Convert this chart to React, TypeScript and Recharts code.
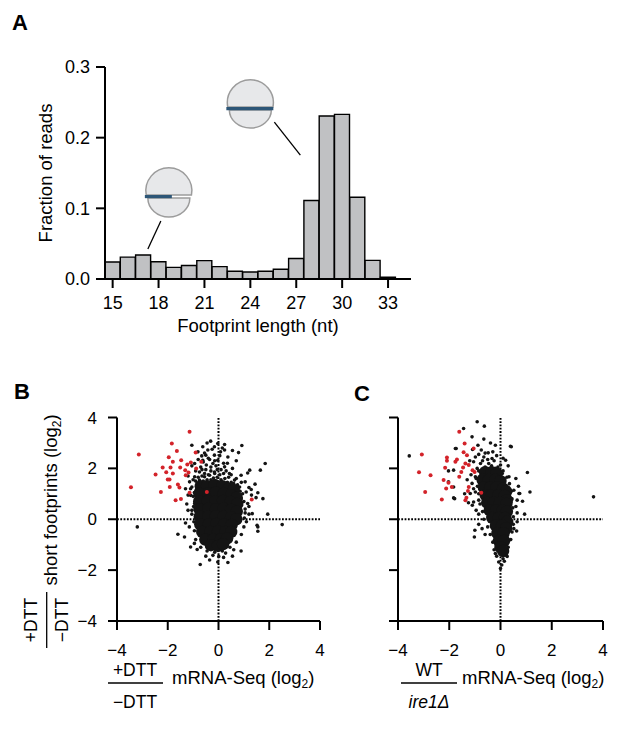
import React from 'react';
import {
  BarChart, Bar, ScatterChart, Scatter, XAxis, YAxis, ReferenceLine, ReferenceDot,
} from 'recharts';

const FONT = "'Liberation Sans', Arial, Helvetica, sans-serif";

// Panel A: footprint length histogram
const lengths = [15, 16, 17, 18, 19, 20, 21, 22, 23, 24, 25, 26, 27, 28, 29, 30, 31, 32, 33, 34];
const fractions = [0.024, 0.031, 0.034, 0.0245, 0.0165, 0.019, 0.026, 0.0175, 0.011, 0.010, 0.011, 0.0137, 0.029, 0.111, 0.2307, 0.233, 0.1156, 0.0264, 0.0024, null];
const fractionTicks = [0, 0.1, 0.2, 0.3];

// Panel B: +DTT/-DTT
const bRed = [
  [-1.14, 3.44], [-1.84, 2.98], [-3.14, 2.55], [-1.64, 2.68], [-0.9, 2.62], [-1.96, 2.44], [-1.47, 2.32],
  [-1.8, 2.26], [-1.23, 2.15], [-1.09, 2.23], [-0.68, 2.26], [-2.2, 2.03], [-1.89, 2.03], [-1.51, 2.03],
  [-2.06, 1.85], [-1.8, 1.8], [-2.48, 1.76], [-1.31, 1.93], [-1.29, 1.73], [-1.18, 1.84], [-0.88, 2.0],
  [-2.0, 1.56], [-1.93, 1.56], [-1.6, 1.37], [-1.54, 1.25], [-1.92, 1.27], [-2.27, 1.07], [-3.45, 1.26],
  [-1.14, 1.04], [-1.69, 0.75], [-1.48, 0.8], [-0.46, 1.07], [1.31, 0.78],
];
const bBlack = [
  [-0.31, 3.07], [-0.03, 2.98], [0.24, 2.94], [0.92, 2.9], [0.79, 2.62], [1.84, 2.19], [1.65, 1.93],
  [1.23, 1.93], [0.89, 1.73], [1.15, 1.82], [1.44, 1.38], [1.55, 1.04], [1.94, 0.2], [-1.05, 2.91],
  [-0.62, 2.85], [-0.5, 2.52], [-3.2, -0.3], [2.51, -0.21], [1.55, -0.3], [1.55, -0.47], [1.75, 0.81],
  [-1.6, -0.59], [-1.34, -0.7], [-1.1, -1.09], [-0.84, -1.19], [-0.72, -1.78], [-0.22, -1.42],
  [-0.03, -1.68], [0.01, -1.46], [0.28, -1.33], [0.37, -1.7], [0.89, -1.25], [1.33, 0.22], [1.52, -0.24],
  [-0.81, 2.65], [-0.66, 2.49], [-0.42, 2.72], [-0.16, 2.85], [0.08, 2.65], [-0.03, 2.32], [-0.22, 2.19],
  [-0.48, 2.13], [-0.75, 1.86], [-0.94, 1.67], [-1.14, 1.47], [-1.05, 1.27], [-0.88, 1.14], [-0.66, 1.38],
  [-0.35, 1.73], [-0.16, 1.86], [0.24, 2.06], [0.43, 1.8], [0.63, 1.54], [0.83, 1.27], [1.05, 1.47],
  [1.09, 1.07], [1.29, 1.17], [0.56, 1.07], [-0.62, 2.32], [-0.35, 2.35], [-0.16, 2.52], [-0.94, 2.19],
  [0.37, 2.45], [0.24, 2.72], [-0.75, 1.54], [-0.55, 1.67], [-1.1, 0.94], [-0.94, 0.62], [-1.05, 0.35],
  [0.89, 0.81], [1.48, 0.85], [1.15, 0.62], [0.83, 0.48],
  [-1.0, 0.9], [-0.98, 0.5], [-1.05, 0.2], [-0.97, -0.1], [-0.95, -0.45], [-0.9, -0.8], [-0.7, -1.1],
  [-0.45, -1.25], [-0.15, -1.3], [0.15, -1.25], [0.45, -1.1], [0.7, -0.9], [0.9, -0.6], [1.0, -0.3],
  [1.02, 0.05], [1.05, 0.4], [1.0, 0.7], [0.95, 1.0], [0.75, 1.2], [0.5, 1.45], [0.25, 1.6], [-0.05, 1.65],
  [-0.3, 1.55], [-0.6, 1.5], [-0.85, 1.35], [-0.9, 1.9], [-0.7, 2.05], [-0.5, 1.95], [-0.3, 2.05],
  [-0.1, 2.1], [0.1, 1.95], [0.35, 2.2], [0.55, 2.0], [-0.8, 2.35], [-0.55, 2.6], [-0.25, 2.75],
  [0.05, 2.5], [0.15, 2.8], [-0.4, 2.4], [-0.15, 1.8], [0.05, 1.75], [-0.65, 1.7], [-1.2, 1.7],
  [-1.3, 1.2], [-1.25, 0.6], [-1.2, 0.35], [-0.45, 3.0], [0.55, 2.7], [0.7, 2.3], [0.7, 1.6], [0.9, 1.45],
  [1.2, 1.25], [1.3, 0.95], [1.2, 0.5], [1.1, -0.1], [1.2, 0.2], [-1.15, -0.3], [-1.3, -0.15],
  [-0.5, -1.45], [0.2, -1.5], [-0.35, -1.6], [0.6, -1.2], [-0.95, -0.95], [0.55, -1.45],
  [-1.0, 1.55], [-0.8, 1.65], [-0.55, 1.8], [-0.3, 1.9], [-0.05, 1.95], [0.2, 1.8], [0.4, 1.65],
  [0.6, 1.4], [0.75, 1.35], [-1.1, 1.2], [-0.95, 1.05], [-0.75, 1.25], [-0.45, 1.55], [-0.2, 1.62],
  [0.1, 1.55], [0.35, 1.45], [0.65, 1.2], [0.85, 1.1], [-1.2, 0.95], [-0.65, 1.95], [-0.9, 1.5],
  [0.3, 1.9], [0.5, 1.75], [-0.4, 1.75], [-0.15, 2.3], [0.2, 2.2], [-0.6, 2.25], [-1.05, 2.1],
  [0.9, 0.55], [1.05, 0.25],
];
// dense centre of the cloud, drawn with large dots
const bCore = [
  [-0.7, 1.3], [-0.45, 1.3], [-0.15, 1.35], [0.15, 1.3], [0.4, 1.2], [0.6, 1.15],
  [-0.75, 1.0], [-0.4, 1.02], [-0.1, 1.05], [0.2, 1.0], [0.5, 0.95], [0.72, 0.85],
  [-0.76, 0.7], [-0.42, 0.72], [-0.12, 0.7], [0.18, 0.72], [0.48, 0.68], [0.74, 0.6],
  [-0.75, 0.4], [-0.4, 0.42], [-0.1, 0.4], [0.2, 0.42], [0.5, 0.38], [0.72, 0.3],
  [-0.74, 0.1], [-0.4, 0.1], [-0.1, 0.12], [0.2, 0.1], [0.5, 0.08], [0.7, 0.0],
  [-0.72, -0.2], [-0.38, -0.2], [-0.08, -0.18], [0.22, -0.2], [0.52, -0.22],
  [-0.64, -0.5], [-0.32, -0.5], [-0.02, -0.48], [0.28, -0.5], [0.5, -0.5],
  [-0.52, -0.8], [-0.2, -0.8], [0.1, -0.78], [0.34, -0.75],
  [-0.3, -1.02], [-0.02, -1.05], [0.18, -0.98],
];

// Panel C: WT/ire1
const cRed = [
  [-1.61, 3.44], [-1.4, 2.98], [-3.07, 2.55], [-3.18, 1.85], [-2.73, 1.73], [-2.16, 2.02], [-2.09, 2.3],
  [-1.76, 2.26], [-1.7, 2.35], [-1.44, 2.63], [-1.31, 2.52], [-1.37, 2.19], [-1.24, 2.13], [-1.46, 2.03],
  [-1.53, 1.86], [-2.22, 1.54], [-2.03, 1.43], [-2.12, 1.21], [-2.94, 1.07], [-2.29, 0.78], [-1.37, 0.75],
  [-1.33, 0.85], [-1.24, 1.27], [-1.27, 1.11], [-1.09, 1.93], [-1.01, 1.86], [-0.75, 1.04], [-1.61, 1.67],
  [-2.09, 2.43], [-1.9, 1.27], [-1.05, 2.78],
];
const cBlack = [
  [-3.56, 2.49], [-0.91, 3.83], [-1.44, 3.57], [-0.63, 3.66], [-0.65, 3.15], [-0.39, 3.0], [0.42, 2.85],
  [-1.73, 2.78], [1.05, 1.84], [1.15, 1.07], [3.63, 0.88], [-1.83, 0.84], [-1.02, -0.7], [-1.0, -0.43],
  [0.0, -1.94], [-0.07, -1.68], [0.26, -1.46], [-0.2, -1.35], [0.52, -0.37], [0.75, 1.01], [-2.03, 1.9],
  [-1.83, 1.27], [-0.72, -0.37], [0.63, -0.46], [0.94, 0.2], [0.65, 0.25], [0.86, 0.71],
  [-1.11, 3.24], [-0.88, 2.91], [-0.2, 2.91], [0.39, 2.87], [-1.76, 2.78], [-1.09, 2.74], [-0.75, 2.72],
  [-0.48, 2.61], [-0.98, 2.45], [-0.65, 2.45], [-0.33, 2.39], [-1.83, 1.93], [-2.03, 1.47], [-1.79, 0.81],
  [-1.05, 2.26], [-0.78, 2.19], [-0.46, 2.19], [-0.91, 2.0], [-0.69, 1.8], [-0.98, 1.67], [-1.11, 1.41],
  [-1.18, 1.01], [-0.98, 1.07], [-0.85, 0.75], [-1.05, 0.68], [-0.2, 2.0], [0.0, 2.13], [0.2, 2.32],
  [0.07, 1.8], [0.33, 1.67], [0.52, 1.14], [0.65, 0.75], [0.72, 1.01],
  [-0.95, 1.6], [-0.9, 1.3], [-0.85, 1.0], [-0.8, 0.6], [-0.7, 0.3], [-0.65, 0.0], [-0.5, -0.3],
  [-0.4, -0.6], [-0.3, -0.9], [-0.25, -1.2], [-0.15, -1.45], [0.2, -1.4], [0.3, -1.1], [0.4, -0.8],
  [0.45, -0.5], [0.5, -0.2], [0.5, 0.1], [0.48, 0.45], [0.45, 0.8], [0.42, 1.1], [0.35, 1.4],
  [0.25, 1.65], [0.1, 1.9], [-0.1, 2.05], [-0.35, 2.1], [-0.6, 2.05], [-0.85, 1.9], [-0.5, 2.35],
  [-0.25, 2.3], [-0.7, 2.3], [-0.6, 2.6], [-0.3, 2.65], [-0.15, 2.5], [-0.85, 2.55], [-1.2, 2.3],
  [-1.15, 1.75], [-1.3, 1.55], [-1.05, 1.2], [-1.4, 1.0], [-1.1, 0.55], [-0.95, 0.35], [-0.85, 0.2],
  [-1.25, 0.65], [0.1, 2.4], [0.3, 2.1], [0.6, 1.6], [0.7, 1.3], [0.6, 0.5], [0.65, -0.1], [-0.85, -0.2],
  [-0.6, -0.6], [0.15, -1.65], [0.05, -1.8], [0.1, -1.55],
];
const cCore = [
  [-0.6, 1.85], [-0.35, 1.85], [-0.15, 1.8],
  [-0.7, 1.55], [-0.45, 1.55], [-0.2, 1.55], [0.0, 1.5],
  [-0.65, 1.25], [-0.4, 1.25], [-0.15, 1.25], [0.1, 1.2], [0.22, 1.1],
  [-0.58, 0.95], [-0.33, 0.95], [-0.08, 0.95], [0.17, 0.92], [0.25, 0.75],
  [-0.52, 0.65], [-0.27, 0.65], [-0.02, 0.65], [0.23, 0.6],
  [-0.42, 0.35], [-0.17, 0.35], [0.08, 0.35], [0.25, 0.3],
  [-0.32, 0.05], [-0.07, 0.05], [0.18, 0.05], [0.26, -0.1],
  [-0.18, -0.25], [0.06, -0.25], [0.22, -0.35],
  [-0.12, -0.55], [0.12, -0.55],
  [-0.06, -0.85], [0.14, -0.85],
  [0.0, -1.1], [0.1, -1.25],
];
const logTicks = [-4, -2, 0, 2, 4];

const histData = lengths.map((length, i) => ({ length, fraction: fractions[i] }));
const toPts = (arr: number[][]) => arr.map(([x, y]) => ({ x, y }));
const minus = (v: number) => (v < 0 ? `\u2212${Math.abs(v)}` : `${v}`);

const axisStyle = { stroke: '#000', strokeWidth: 2 };
const RED = '#d3232a';
const BLACK = '#141414';

const dot = (r: number, fill: string) => (p: any) => <circle cx={p.cx} cy={p.cy} r={r} fill={fill} />;

const RIBO_FILL = '#e7e8ea';
const RIBO_STROKE = '#9c9c9c';
const MRNA = '#2d5677';

const Ribosome80S = (p: any) => (
  <g>
    <line x1={p.cx + 24} y1={p.cy + 18} x2={p.cx + 50} y2={p.cy + 51} stroke="#000" strokeWidth={1.3} />
    <path d={`M${p.cx - 21},${p.cy + 6} A21,18 0 0,0 ${p.cx + 21},${p.cy + 6} Z`} fill={RIBO_FILL} stroke={RIBO_STROKE} strokeWidth={1.5} />
    <path d={`M${p.cx - 22.6},${p.cy + 3} A23,23 0 1,1 ${p.cx + 22.6},${p.cy + 3} Z`} fill={RIBO_FILL} stroke={RIBO_STROKE} strokeWidth={1.5} />
    <line x1={p.cx - 24} y1={p.cy + 4.5} x2={p.cx + 23} y2={p.cy + 4.5} stroke={MRNA} strokeWidth={3.2} />
  </g>
);

const Ribosome40S = (p: any) => {
  const cx = p.cx - 5;
  const cy = p.cy;
  return (
    <g>
      <line x1={cx - 8} y1={cy + 29} x2={cx - 21} y2={cy + 57} stroke="#000" strokeWidth={1.3} />
      <path d={`M${cx - 21},${cy + 6} A21,19 0 0,0 ${cx + 21},${cy + 6} Z`} fill={RIBO_FILL} stroke={RIBO_STROKE} strokeWidth={1.5} />
      <path d={`M${cx - 22.6},${cy + 3} A23,23 0 1,1 ${cx + 22.6},${cy + 3} Z`} fill={RIBO_FILL} stroke={RIBO_STROKE} strokeWidth={1.5} />
      <line x1={cx - 24} y1={cy + 4.5} x2={cx + 3} y2={cy + 4.5} stroke={MRNA} strokeWidth={3.2} />
    </g>
  );
};

const FootprintHistogram = () => (
  <BarChart
    width={430}
    height={340}
    data={histData}
    margin={{ top: 67, right: 19, left: 45, bottom: 21 }}
    barCategoryGap={0}
  >
    <XAxis
      dataKey="length"
      interval={2}
      height={40}
      tickSize={9}
      tickMargin={8}
      axisLine={axisStyle}
      tickLine={axisStyle}
      tick={{ fontSize: 18, fill: '#000', fontFamily: FONT }}
    />
    <YAxis
      domain={[0, 0.3]}
      ticks={fractionTicks}
      tickFormatter={(v) => v.toFixed(1)}
      width={60}
      tickSize={9}
      tickMargin={6}
      axisLine={axisStyle}
      tickLine={axisStyle}
      tick={{ fontSize: 18, fill: '#000', fontFamily: FONT }}
    />
    <Bar dataKey="fraction" fill="#c0c1c3" stroke="#000" strokeWidth={1.4} isAnimationActive={false} />
    <ReferenceDot x={24} y={0.2476} r={1} shape={(p: any) => <Ribosome80S {...p} />} />
    <ReferenceDot x={19} y={0.123} r={1} shape={(p: any) => <Ribosome40S {...p} />} />
  </BarChart>
);

type ScatterProps = {
  red: number[][];
  black: number[][];
  core: number[][];
  showYLabels: boolean;
  left: number;
  yWidth: number;
  width: number;
  right: number;
};

const LogScatter = ({ red, black, core, showYLabels, left, yWidth, width, right }: ScatterProps) => (
  <ScatterChart width={width} height={300} margin={{ top: 37.5, right, left, bottom: 19 }}>
    <XAxis
      type="number"
      dataKey="x"
      domain={[-4, 4]}
      ticks={logTicks}
      allowDataOverflow
      height={40}
      tickSize={9}
      tickMargin={14}
      tickFormatter={minus}
      axisLine={axisStyle}
      tickLine={axisStyle}
      tick={{ fontSize: 17, fill: '#000', fontFamily: FONT }}
    />
    <YAxis
      type="number"
      dataKey="y"
      domain={[-4, 4]}
      ticks={logTicks}
      allowDataOverflow
      width={yWidth}
      tickSize={9}
      tickMargin={11}
      tickFormatter={showYLabels ? minus : () => ''}
      axisLine={axisStyle}
      tickLine={axisStyle}
      tick={{ fontSize: 17, fill: '#000', fontFamily: FONT }}
    />
    <ReferenceLine x={0} stroke="#000" strokeWidth={2} strokeDasharray="1.8 1.5" />
    <ReferenceLine y={0} stroke="#000" strokeWidth={2} strokeDasharray="1.8 1.5" />
    <Scatter data={toPts(black)} shape={dot(1.8, BLACK)} isAnimationActive={false} />
    <Scatter data={toPts(core)} shape={dot(6.2, BLACK)} isAnimationActive={false} />
    <Scatter data={toPts(red)} shape={dot(2, RED)} isAnimationActive={false} />
  </ScatterChart>
);

const App = () => (
  <div style={{ position: 'absolute', left: 0, top: 0, width: 617, height: 734, background: '#fff', fontFamily: FONT }}>
    <div style={{ position: 'absolute', left: 0, top: 0 }}>
      <FootprintHistogram />
    </div>
    <div style={{ position: 'absolute', left: 0, top: 380 }}>
      <LogScatter red={bRed} black={bBlack} core={bCore} showYLabels left={67} yWidth={50} width={330} right={10} />
    </div>
    <div style={{ position: 'absolute', left: 310, top: 380 }}>
      <LogScatter red={cRed} black={cBlack} core={cCore} showYLabels={false} left={68} yWidth={20} width={300} right={7} />
    </div>
    <svg
      width={617}
      height={734}
      style={{ position: 'absolute', left: 0, top: 0, pointerEvents: 'none' }}
      fontFamily={FONT}
      fill="#000"
    >
      <text x={12} y={29.5} fontSize={22} fontWeight="bold">A</text>
      <text x={14} y={399} fontSize={22} fontWeight="bold">B</text>
      <text x={354} y={401} fontSize={22} fontWeight="bold">C</text>

      <text transform="translate(51.5,173) rotate(-90)" textAnchor="middle" fontSize={18.5}>Fraction of reads</text>
      <text x={258} y={332} textAnchor="middle" fontSize={18.5}>Footprint length (nt)</text>

      {/* B y title */}
      <text transform="translate(57,500) rotate(-90)" textAnchor="middle" fontSize={18.5}>
        short footprints (log<tspan fontSize={12} dy={4}>2</tspan><tspan dy={-4}>)</tspan>
      </text>
      <text transform="translate(37,620) rotate(-90)" textAnchor="middle" fontSize={17.5}>+DTT</text>
      <line x1={46.7} y1={592} x2={46.7} y2={648} stroke="#000" strokeWidth={1.3} />
      <text transform="translate(68,620) rotate(-90)" textAnchor="middle" fontSize={17.5}>{'\u2212DTT'}</text>

      {/* B x title */}
      <text x={135} y={676} textAnchor="middle" fontSize={17.5}>+DTT</text>
      <line x1={108} y1={683} x2={163} y2={683} stroke="#000" strokeWidth={1.3} />
      <text x={135} y={708} textAnchor="middle" fontSize={17.5}>{'\u2212DTT'}</text>
      <text x={172} y={684} fontSize={18.5}>
        mRNA-Seq (log<tspan fontSize={12} dy={4}>2</tspan><tspan dy={-4}>)</tspan>
      </text>

      {/* C x title */}
      <text x={429} y={676} textAnchor="middle" fontSize={17.5}>WT</text>
      <line x1={401} y1={683} x2={457} y2={683} stroke="#000" strokeWidth={1.3} />
      <text x={429} y={708} textAnchor="middle" fontSize={17.5} fontStyle="italic">{'ire1\u0394'}</text>
      <text x={462} y={684} fontSize={18.5}>
        mRNA-Seq (log<tspan fontSize={12} dy={4}>2</tspan><tspan dy={-4}>)</tspan>
      </text>
    </svg>
  </div>
);

export default App;
